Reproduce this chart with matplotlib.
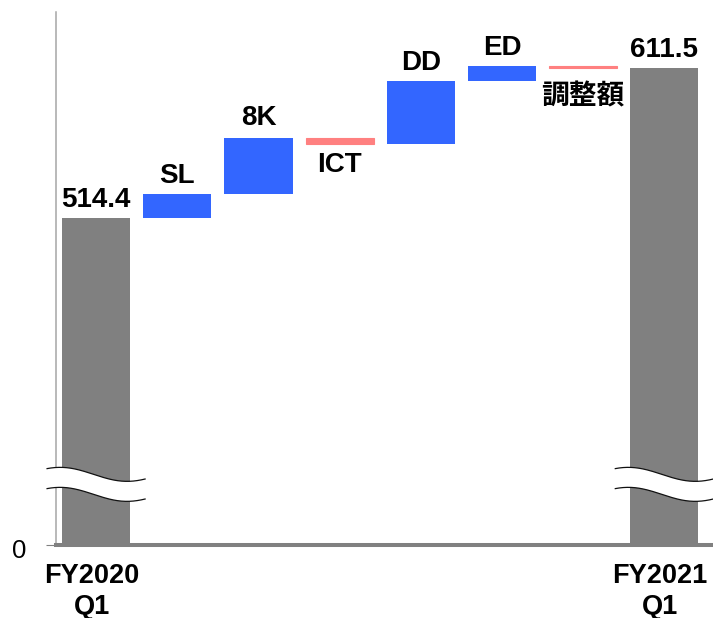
import numpy as np
import matplotlib
matplotlib.use('Agg')
import matplotlib.pyplot as plt
from matplotlib.transforms import IdentityTransform, ScaledTranslation
from matplotlib.patches import Polygon

# ---- data ----
start_label = "FY2020\nQ1"
end_label = "FY2021\nQ1"
start_value = 514.4
end_value = 611.5
step_names = ["SL", "8K", "ICT", "DD", "ED", "調整額"]
step_values = [15.9, 36.0, -3.9, 40.7, 9.5, -1.1]

# ---- style ----
BLUE = "#3366FF"
PINK = "#FF8080"
GRAY = "#808080"
AXIS_GRAY = "#A6A6A6"
BAR_W = 0.84
# extra label offsets (points) for a few labels, purely cosmetic
EXTRA_OFFSET = {"8K": 1.5, "調整額": -6.0}

plt.rcParams['font.family'] = ['Liberation Sans', 'Noto Sans CJK JP', 'DejaVu Sans']

W, H = 713, 618
fig = plt.figure(figsize=(W / 100, H / 100), dpi=100)
ax = fig.add_axes([55.5 / W, (H - 545) / H, (W - 55.5) / W, (545 - 12) / H])

# broken (compressed) lower part of the value axis
T, K = 320.0, 0.052


def fwd(v):
    v = np.asarray(v, dtype=float)
    return np.where(v >= T, v, T - (T - v) * K)


def inv(u):
    u = np.asarray(u, dtype=float)
    return np.where(u >= T, u, T - (T - u) / K)


ax.set_yscale('function', functions=(fwd, inv))

n = len(step_values)
xs = np.arange(n + 2)
steps = np.array(step_values)
cum = start_value + np.cumsum(steps)
prev = np.concatenate([[start_value], cum[:-1]])
bottoms = np.minimum(prev, cum)
tops = np.maximum(prev, cum)
heights = np.abs(steps)

label_kw = dict(fontsize=20, fontweight='bold', ha='center', color='black')

# totals
for x, v, in [(xs[0], start_value), (xs[-1], end_value)]:
    ax.bar(x, v, width=BAR_W, color=GRAY, zorder=2)
    ax.annotate(f"{v:.1f}", (x, v), xytext=(0, 8), textcoords='offset points',
                va='baseline', **label_kw)

# steps
for i in range(n):
    x = xs[i + 1]
    pos = steps[i] > 0
    c = BLUE if pos else PINK
    ax.bar(x, heights[i], bottom=bottoms[i], width=BAR_W, color=c,
           edgecolor=c, linewidth=0 if pos else 0.8, zorder=2)
    extra = EXTRA_OFFSET.get(step_names[i], 0.0)
    if pos:
        ax.annotate(step_names[i], (x, tops[i]), xytext=(0, 8 + extra),
                    textcoords='offset points', va='baseline', **label_kw)
    else:
        ax.annotate(step_names[i], (x, bottoms[i]), xytext=(0, -6 + extra),
                    textcoords='offset points', va='top', **label_kw)

ax.set_xlim(-0.5, 7.6)
ax.set_ylim(0, 647.7)
ax.autoscale(False)

# axes styling
for s in ['top', 'right']:
    ax.spines[s].set_visible(False)
ax.spines['left'].set_color(AXIS_GRAY)
ax.spines['left'].set_linewidth(1.1)
ax.spines['bottom'].set_color(GRAY)
ax.spines['bottom'].set_linewidth(2.9)
ax.spines['bottom'].set_zorder(3)

ax.set_yticks([0])
ax.set_yticklabels(["0"])
ax.tick_params(axis='y', length=7.2, width=0.8, color=GRAY, pad=14,
               labelsize=18.5)
ax.set_xticks([xs[0], xs[-1]])
ax.set_xticklabels([start_label, end_label], fontsize=19.5, fontweight='bold',
                   linespacing=1.25)
ax.tick_params(axis='x', length=0, pad=13)
for lbl in ax.get_xticklabels():
    lbl.set_transform(lbl.get_transform() + ScaledTranslation(-3 / 72, 0, fig.dpi_scale_trans))
for lbl in ax.get_yticklabels():
    lbl.set_transform(lbl.get_transform() + ScaledTranslation(0, -2.5 / 72, fig.dpi_scale_trans))

# break marks (wavy white band across the two total bars)
Y_BREAK = 349.0
for xc in [xs[0], xs[-1]]:
    cx, cy = ax.transData.transform((xc, Y_BREAK))
    xx = np.linspace(cx - 49, cx + 49, 200)
    yy = cy + 7 * np.cos(2 * np.pi * (xx - (cx - 36)) / 134)
    yl = yy - 20
    poly = Polygon(np.column_stack([np.concatenate([xx, xx[::-1]]),
                                    np.concatenate([yy, yl[::-1]])]),
                   closed=True, facecolor='white', edgecolor='none',
                   transform=IdentityTransform(), clip_on=False, zorder=5)
    ax.add_patch(poly)
    for y_ in (yy, yl):
        ax.plot(xx, y_, color='#111111', lw=0.9, transform=IdentityTransform(),
                clip_on=False, zorder=6)

fig.savefig('out.png', dpi=100)
